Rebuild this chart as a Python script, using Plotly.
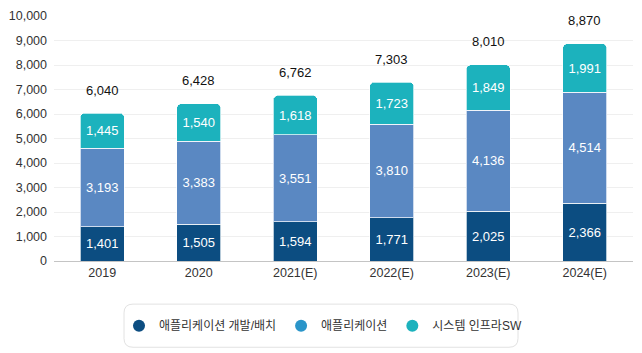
import plotly.graph_objects as go

categories = ["2019", "2020", "2021(E)", "2022(E)", "2023(E)", "2024(E)"]
dev_deploy = [1401, 1505, 1594, 1771, 2025, 2366]
application = [3193, 3383, 3551, 3810, 4136, 4514]
system_infra = [1445, 1540, 1618, 1723, 1849, 1991]
totals = [6040, 6428, 6762, 7303, 8010, 8870]
series_names = ["애플리케이션 개발/배치", "애플리케이션", "시스템 인프라SW"]
tick_vals = [0, 1000, 2000, 3000, 4000, 5000, 6000, 7000, 8000, 9000, 10000]

bar_colors = ["#0c4d81", "#5a88c2", "#1cb2bd"]
legend_colors = ["#0c4d81", "#2a95c9", "#1cb2bd"]
FONT = "Liberation Sans, Noto Sans CJK KR, sans-serif"

W, H = 642, 353
ml, mr, mt, mb = 54, 9, 11, 92
pw, ph = W - ml - mr, H - mt - mb

fig = go.Figure()
for vals, name, col in zip([dev_deploy, application, system_infra], series_names, bar_colors):
    fig.add_trace(go.Bar(
        x=categories, y=vals, name=name, marker_color=col,
        marker_line=dict(color="rgba(255,255,255,0.7)", width=1),
        text=[f"{v:,}" for v in vals], textposition="inside", insidetextanchor="middle",
        textfont=dict(color="white", size=13, family=FONT),
        showlegend=False, hoverinfo="skip",
    ))

for name, col in zip(series_names, legend_colors):
    fig.add_trace(go.Scatter(
        x=[None], y=[None], mode="markers", name=name,
        marker=dict(color=col, size=13, symbol="circle"),
    ))

for i, t in enumerate(totals):
    fig.add_annotation(x=i, y=t, xref="x", yref="y", text=f"{t:,}", showarrow=False, yshift=23,
                       font=dict(size=13, color="#111111", family=FONT))

# rounded legend box
def px2paper(x, y):
    return (x - ml) / pw, (H - mb - y) / ph

x0, y0 = px2paper(124, 305)
x1, y1 = px2paper(518, 349)
rx, ry = 9 / pw, 9 / ph
path = (f"M {x0+rx},{y0} L {x1-rx},{y0} Q {x1},{y0} {x1},{y0-ry} "
        f"L {x1},{y1+ry} Q {x1},{y1} {x1-rx},{y1} L {x0+rx},{y1} "
        f"Q {x0},{y1} {x0},{y1+ry} L {x0},{y0-ry} Q {x0},{y0} {x0+rx},{y0} Z")
fig.add_shape(type="path", path=path, xref="paper", yref="paper",
              line=dict(color="#e2e2e2", width=1), fillcolor="white", layer="below")

lx, ly = px2paper(323, 327)
fig.update_layout(
    width=W, height=H,
    margin=dict(l=ml, r=mr, t=mt, b=mb),
    barmode="stack", bargap=0.54, barcornerradius=5,
    plot_bgcolor="white", paper_bgcolor="white",
    font=dict(family=FONT, size=12, color="#333333"),
    legend=dict(orientation="h", x=lx, y=ly, xanchor="center", yanchor="middle",
                traceorder="normal",
                font=dict(size=12, color="#333333", family=FONT),
                itemsizing="constant", bgcolor="rgba(0,0,0,0)"),
    xaxis=dict(type="category", categoryorder="array", categoryarray=categories,
               range=[-0.5, len(categories) - 0.5],
               showgrid=False, showline=True, linecolor="#c4c4c4", linewidth=1,
               ticks="", tickfont=dict(size=12.5, color="#333333")),
    yaxis=dict(range=[0, 10000], tickvals=tick_vals,
               ticktext=[f"{v:,}" for v in tick_vals],
               showgrid=True, gridcolor="#efefef", gridwidth=1, zeroline=False,
               ticks="", ticklen=0, ticklabelstandoff=6,
               tickfont=dict(size=12.5, color="#333333")),
)

fig.write_html("out.html")
